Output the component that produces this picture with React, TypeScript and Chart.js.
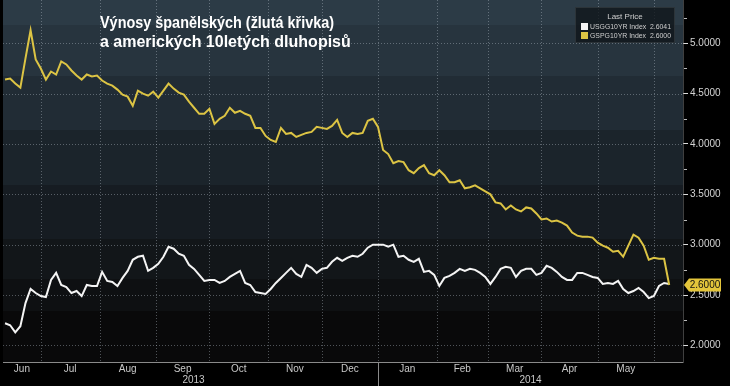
import React, { useEffect, useRef } from 'react';
import { Chart, registerables } from 'chart.js';

Chart.register(...registerables);

// Weekday index 0 = 11 Jun 2013; one value every 2 weekdays
const stepWeekdays = 2;
const spainYields = [
  4.64, 4.65, 4.60, 4.56, 4.85, 5.13, 4.84, 4.75, 4.64, 4.72,
  4.69, 4.82, 4.79, 4.73, 4.68, 4.64, 4.69, 4.67, 4.68, 4.63,
  4.60, 4.58, 4.54, 4.49, 4.47, 4.38, 4.53, 4.50, 4.48, 4.52,
  4.46, 4.53, 4.60, 4.55, 4.51, 4.49, 4.42, 4.36, 4.30, 4.30,
  4.35, 4.20, 4.25, 4.28, 4.36, 4.31, 4.33, 4.30, 4.28, 4.16,
  4.16, 4.08, 4.04, 4.02, 4.16, 4.10, 4.11, 4.07, 4.09, 4.11,
  4.12, 4.17, 4.16, 4.15, 4.18, 4.24, 4.11, 4.07, 4.11, 4.10,
  4.11, 4.23, 4.25, 4.17, 3.94, 3.90, 3.81, 3.83, 3.82, 3.74,
  3.71, 3.76, 3.79, 3.71, 3.69, 3.74, 3.69, 3.62, 3.62, 3.64,
  3.56, 3.57, 3.59, 3.56, 3.53, 3.50, 3.42, 3.41, 3.35, 3.39,
  3.35, 3.33, 3.37, 3.36, 3.31, 3.25, 3.26, 3.23, 3.24, 3.22,
  3.19, 3.12, 3.09, 3.08, 3.08, 3.07, 3.02, 2.99, 2.97, 2.93,
  2.94, 2.88, 2.99, 3.10, 3.07, 2.99, 2.85, 2.87, 2.86, 2.86,
  2.60,
];
const usYields = [
  2.22, 2.20, 2.13, 2.19, 2.42, 2.56, 2.52, 2.49, 2.48, 2.65,
  2.72, 2.60, 2.58, 2.52, 2.54, 2.49, 2.60, 2.59, 2.59, 2.73,
  2.64, 2.63, 2.59, 2.67, 2.74, 2.85, 2.88, 2.89, 2.74, 2.77,
  2.81, 2.88, 2.98, 2.96, 2.91, 2.89, 2.80, 2.76, 2.70, 2.64,
  2.65, 2.65, 2.62, 2.64, 2.68, 2.71, 2.74, 2.62, 2.60, 2.53,
  2.52, 2.51, 2.56, 2.62, 2.67, 2.72, 2.77, 2.71, 2.68, 2.80,
  2.77, 2.72, 2.76, 2.77, 2.83, 2.87, 2.84, 2.87, 2.89, 2.88,
  2.91, 2.97, 3.00, 3.00, 3.00, 2.98, 3.00, 2.88, 2.89, 2.85,
  2.83, 2.86, 2.73, 2.74, 2.70, 2.59, 2.67, 2.69, 2.72, 2.76,
  2.74, 2.76, 2.75, 2.72, 2.68, 2.61, 2.68, 2.76, 2.78, 2.77,
  2.68, 2.74, 2.76, 2.76, 2.70, 2.72, 2.79, 2.77, 2.73, 2.68,
  2.65, 2.65, 2.72, 2.72, 2.70, 2.68, 2.67, 2.61, 2.62, 2.61,
  2.64, 2.56, 2.52, 2.54, 2.57, 2.53, 2.47, 2.49, 2.59, 2.62,
  2.61,
];

const monthNames = ['Jun', 'Jul', 'Aug', 'Sep', 'Oct', 'Nov', 'Dec', 'Jan', 'Feb', 'Mar', 'Apr', 'May'];
// weekday index of the first weekday of Jul 2013 ... Jun 2014
const monthBoundaries = [14, 37, 59, 80, 103, 124, 146, 169, 189, 210, 232, 254];
const yearLabels = ['2013', '2014'];
const yearBoundary = 146;
const xMin = -0.8;
const xMax = 265.4;
const yMin = 1.835;
const yMax = 5.43;
const yTicks = [2.0, 2.5, 3.0, 3.5, 4.0, 4.5, 5.0];
const yMinorTicks = [2.25, 2.75, 3.25, 3.75, 4.25, 4.75, 5.25];
const seriesNames = ['USGG10YR Index', 'GSPG10YR Index'];
const lastPrices = [2.6041, 2.6];
const legendTitle = 'Last Price';
const titleLines = ['Výnosy španělských (žlutá křivka)', 'a amerických 10letých dluhopisů'];

const FONT = '"Liberation Sans", Arial, sans-serif';
const YELLOW = '#dcc444';
const WHITE = '#f4f4f4';
const GRID = 'rgba(185,195,205,0.40)';

const monthCenters = monthNames.map((_, i) => {
  const start = i === 0 ? xMin : monthBoundaries[i - 1];
  return (start + monthBoundaries[i]) / 2;
});

const bgPlugin = {
  id: 'bgBands',
  beforeDraw(chart: any) {
    const { ctx, chartArea: a, width, height } = chart;
    const xs = chart.scales.x;
    const ys = chart.scales.y;
    ctx.save();
    ctx.fillStyle = '#000';
    ctx.fillRect(0, 0, width, height);
    const stops = [0, 0.07, 0.21, 0.36, 0.51, 0.66, 0.77, 0.86, 1];
    const cols = ['#2c3b46', '#27343e', '#212c35', '#1b242b', '#161c22', '#121619', '#0e1012', '#09090a'];
    const h = a.bottom - a.top;
    for (let i = 0; i < cols.length; i++) {
      const y0 = Math.round(a.top + stops[i] * h);
      const y1 = Math.round(a.top + stops[i + 1] * h);
      ctx.fillStyle = cols[i];
      ctx.fillRect(a.left, y0, a.right - a.left, y1 - y0);
    }
    ctx.strokeStyle = GRID;
    ctx.lineWidth = 1;
    ctx.setLineDash([1, 2]);
    for (const b of monthBoundaries) {
      const x = Math.round(xs.getPixelForValue(b)) + 0.5;
      ctx.beginPath();
      ctx.moveTo(x, a.top);
      ctx.lineTo(x, a.bottom);
      ctx.stroke();
    }
    for (const t of yTicks) {
      const y = Math.round(ys.getPixelForValue(t)) + 0.5;
      ctx.beginPath();
      ctx.moveTo(a.left, y);
      ctx.lineTo(a.right, y);
      ctx.stroke();
    }
    ctx.restore();
  },
};

const overlayPlugin = {
  id: 'overlay',
  afterDraw(chart: any) {
    const { ctx, chartArea: a, height } = chart;
    const xs = chart.scales.x;
    const ys = chart.scales.y;
    ctx.save();
    // axis line
    ctx.strokeStyle = '#8a8a8a';
    ctx.lineWidth = 1;
    ctx.beginPath();
    ctx.moveTo(a.left, a.bottom + 0.5);
    ctx.lineTo(a.right + 0.5, a.bottom + 0.5);
    ctx.stroke();
    // faint right border
    ctx.strokeStyle = 'rgba(140,140,140,0.45)';
    ctx.beginPath();
    ctx.moveTo(a.right + 0.5, a.bottom);
    ctx.lineTo(a.right + 0.5, a.top);
    ctx.stroke();
    // year separator
    ctx.strokeStyle = '#8a8a8a';
    const xy = Math.round(xs.getPixelForValue(yearBoundary)) + 0.5;
    ctx.beginPath();
    ctx.moveTo(xy, a.bottom);
    ctx.lineTo(xy, height);
    ctx.stroke();
    // minor y ticks
    ctx.strokeStyle = '#bbbbbb';
    for (const t of yMinorTicks) {
      if (t > yMax) continue;
      const y = Math.round(ys.getPixelForValue(t)) + 0.5;
      ctx.beginPath();
      ctx.moveTo(a.right + 1, y);
      ctx.lineTo(a.right + 4, y);
      ctx.stroke();
    }
    // year labels
    ctx.fillStyle = '#c8c8c8';
    ctx.font = `10px ${FONT}`;
    ctx.textAlign = 'center';
    ctx.textBaseline = 'middle';
    const yc1 = (xs.getPixelForValue(xMin) + xs.getPixelForValue(yearBoundary)) / 2;
    const yc2 = (xs.getPixelForValue(yearBoundary) + xs.getPixelForValue(xMax)) / 2;
    ctx.fillText(yearLabels[0], yc1 + 3, 380);
    ctx.fillText(yearLabels[1], yc2, 380);
    // title
    ctx.fillStyle = '#ffffff';
    ctx.font = `bold 16px ${FONT}`;
    ctx.textAlign = 'left';
    ctx.textBaseline = 'alphabetic';
    ctx.fillText(titleLines[0], 100, 28, 234);
    ctx.fillText(titleLines[1], 100, 47, 252);
    // legend box
    ctx.fillStyle = 'rgba(16,21,26,0.78)';
    ctx.fillRect(575, 7, 100, 36);
    ctx.strokeStyle = 'rgba(255,255,255,0.10)';
    ctx.strokeRect(575.5, 7.5, 99, 35);
    ctx.fillStyle = '#cfcfcf';
    ctx.font = `8px ${FONT}`;
    ctx.textAlign = 'center';
    ctx.textBaseline = 'middle';
    ctx.fillText(legendTitle, 625, 17);
    ctx.textAlign = 'left';
    const rows = [
      { color: WHITE, text: `${seriesNames[0]}  ${lastPrices[0].toFixed(4)}`, y: 26.5 },
      { color: YELLOW, text: `${seriesNames[1]}  ${lastPrices[1].toFixed(4)}`, y: 35.5 },
    ];
    for (const r of rows) {
      ctx.fillStyle = r.color;
      ctx.fillRect(581, r.y - 3.5, 7, 7);
      ctx.fillStyle = '#cfcfcf';
      ctx.fillText(r.text, 590, r.y, 81);
    }
    // last price badge
    const by = ys.getPixelForValue(lastPrices[1]);
    const bx = a.right + 1;
    ctx.fillStyle = '#e3c53b';
    ctx.beginPath();
    ctx.moveTo(bx, by);
    ctx.lineTo(bx + 5, by - 6.5);
    ctx.lineTo(bx + 37, by - 6.5);
    ctx.lineTo(bx + 37, by + 6.5);
    ctx.lineTo(bx + 5, by + 6.5);
    ctx.closePath();
    ctx.fill();
    ctx.fillStyle = '#111';
    ctx.font = `10px ${FONT}`;
    ctx.textAlign = 'center';
    ctx.fillText(lastPrices[1].toFixed(4), bx + 21, by + 0.5);
    ctx.restore();
  },
};

export default function App() {
  const ref = useRef<HTMLCanvasElement>(null);
  useEffect(() => {
    const canvas = ref.current;
    if (!canvas) return;
    const toPts = (arr: number[]) => arr.map((v, i) => ({ x: i * stepWeekdays, y: v }));
    const chart = new Chart(canvas, {
      type: 'line',
      data: {
        datasets: [
          {
            label: seriesNames[1],
            data: toPts(spainYields),
            borderColor: YELLOW,
            borderWidth: 2,
            pointRadius: 0,
            tension: 0,
          },
          {
            label: seriesNames[0],
            data: toPts(usYields),
            borderColor: WHITE,
            borderWidth: 2,
            pointRadius: 0,
            tension: 0,
          },
        ],
      },
      options: {
        animation: false,
        responsive: false,
        devicePixelRatio: 1,
        layout: { padding: { left: 3, top: 0, right: 0, bottom: 0 } },
        plugins: {
          legend: { display: false },
          tooltip: { enabled: false },
          title: { display: false },
        },
        scales: {
          x: {
            type: 'linear',
            min: xMin,
            max: xMax,
            grid: { display: false, drawTicks: false },
            border: { display: false },
            afterBuildTicks: (s: any) => {
              s.ticks = monthCenters.map((v) => ({ value: v }));
            },
            afterFit: (s: any) => {
              s.height = 24;
              s.paddingLeft = 0;
              s.paddingRight = 0;
            },
            ticks: {
              autoSkip: false,
              maxRotation: 0,
              minRotation: 0,
              padding: 1,
              color: '#c8c8c8',
              font: { size: 10, family: FONT },
              callback: (_v: any, i: number) => monthNames[i],
            },
          },
          y: {
            type: 'linear',
            position: 'right',
            min: yMin,
            max: yMax,
            grid: {
              drawOnChartArea: false,
              drawTicks: true,
              tickLength: 5,
              tickColor: '#dddddd',
              tickWidth: 1,
            },
            border: { display: false },
            afterBuildTicks: (s: any) => {
              s.ticks = yTicks.map((v) => ({ value: v }));
            },
            afterFit: (s: any) => {
              s.width = 47;
              s.paddingTop = 0;
              s.paddingBottom = 0;
            },
            ticks: {
              padding: 2,
              color: '#d4d4d4',
              font: { size: 10, family: FONT },
              callback: (v: any) => Number(v).toFixed(4),
            },
          },
        },
      },
      plugins: [bgPlugin, overlayPlugin],
    } as any);
    return () => chart.destroy();
  }, []);
  return (
    <div style={{ position: 'fixed', left: 0, top: 0, width: 730, height: 386, background: '#000' }}>
      <canvas ref={ref} width={730} height={386} style={{ display: 'block', width: 730, height: 386 }} />
    </div>
  );
}
